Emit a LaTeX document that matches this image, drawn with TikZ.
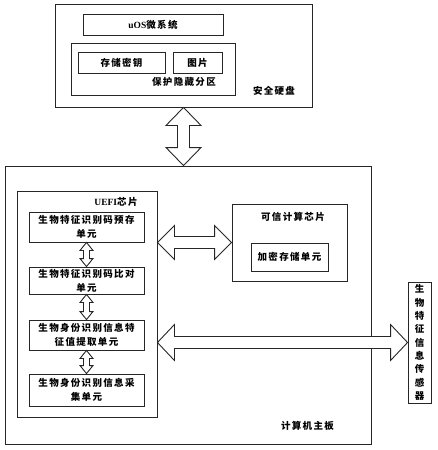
\documentclass[tikz,border=0pt]{standalone}
\usepackage{fontspec}
\setmainfont{Liberation Serif}
\newfontfamily\cjk[LetterSpace=14]{Noto Sans CJK SC}
\usetikzlibrary{calc}
\tikzset{
  box/.style={draw=black!85, line width=0.9pt, minimum width=#1, inner sep=0pt},
  lbl/.style={font=\cjk\bfseries\fontsize{9.5}{13.5}\selectfont, inner sep=0pt, align=center},
  unitbox/.style={draw=black!85, line width=0.9pt, minimum width=115pt, inner sep=0pt, align=center, font=\cjk\bfseries\fontsize{9.5}{14}\selectfont},
  blockarrow/.style={draw=black!85, line width=0.9pt, fill=white, line join=miter},
}
\newcommand\hdblarrow[5]{% #1 left tip, #2 right tip, #3 head length, #4 head half-width, #5 shaft half-width
  \draw[blockarrow] (#1) -- ($(#1)+(#3,-#4)$) -- ($(#1)+(#3,-#5)$) -- ($(#2)+(-#3,-#5)$) -- ($(#2)+(-#3,-#4)$) -- (#2)
    -- ($(#2)+(-#3,#4)$) -- ($(#2)+(-#3,#5)$) -- ($(#1)+(#3,#5)$) -- ($(#1)+(#3,#4)$) -- cycle;}
\newcommand\vdblarrow[5]{% #1 top tip, #2 bottom tip
  \draw[blockarrow] (#1) -- ($(#1)+(#4,#3)$) -- ($(#1)+(#5,#3)$) -- ($(#2)+(#5,-#3)$) -- ($(#2)+(#4,-#3)$) -- (#2)
    -- ($(#2)+(-#4,-#3)$) -- ($(#2)+(-#5,-#3)$) -- ($(#1)+(-#5,#3)$) -- ($(#1)+(-#4,#3)$) -- cycle;}
\begin{document}
\begin{tikzpicture}[x=1pt,y=-1pt]
\useasboundingbox (0,0) rectangle (437,450);
% secure disk
\node[box=257pt, minimum height=103pt] (disk) at (183.5,55.5) {};
\node[box=140pt, minimum height=21pt, font=\bfseries\fontsize{9.5}{11}\selectfont] (uos) at (153,24.5) {uOS{\cjk\bfseries 微系统}};
\node[box=164pt, minimum height=52pt] (part) at (153,69) {};
\node[box=87pt, minimum height=21pt, lbl] (key) at (121.5,62.5) {存储密钥};
\node[box=49pt, minimum height=21pt, lbl] (pic) at (197.5,62.5) {图片};
\node[lbl] (partl) at (184,82) {保护隐藏分区};
\node[lbl] (diskl) at (274,91) {安全硬盘};
% motherboard
\node[box=366pt, minimum height=278pt] (mb) at (188,305) {};
\node[lbl] (mbl) at (307.5,426) {计算机主板};
% UEFI
\node[box=140pt, minimum height=226pt] (uefi) at (87,304) {};
\node[inner sep=0pt, font=\bfseries\fontsize{9.5}{11}\selectfont] (uefil) at (116,202) {UEFI{\cjk\bfseries 芯片}};
\node[unitbox, minimum height=30pt] (u1) at (86.5,227) {生物特征识别码预存\\单元};
\node[unitbox, minimum height=27pt] (u2) at (86.5,280.5) {生物特征识别码比对\\单元};
\node[unitbox, minimum height=30pt] (u3) at (86.5,335) {生物身份识别信息特\\征值提取单元};
\node[unitbox, minimum height=32pt] (u4) at (86.5,390) {生物身份识别信息采\\集单元};
% trusted chip
\node[box=115pt, minimum height=77pt] (tc) at (289.5,242.5) {};
\node[lbl] (tcl) at (293,217) {可信计算芯片};
\node[box=77pt, minimum height=28pt, lbl] (enc) at (289.5,257) {加密存储单元};
% sensor
\node[box=23pt, minimum height=121pt, lbl, font=\cjk\bfseries\fontsize{9.5}{13.3}\selectfont] (sensor) at (419.5,342.5) {生\\物\\特\\征\\信\\息\\传\\感\\器};
% arrows
\coordinate (dtop) at (disk.south);
\coordinate (dbot) at (disk.south |- mb.north);
\vdblarrow{dtop}{dbot}{18}{17.5}{6}
\coordinate (a1l) at (uefi.east |- tc.west);
\coordinate (a1r) at (tc.west);
\hdblarrow{a1l}{a1r}{17}{17}{6}
\coordinate (a2l) at (uefi.east |- sensor.west);
\coordinate (a2r) at (sensor.west);
\hdblarrow{a2l}{a2r}{17}{18}{6}
\vdblarrow{u1.south}{u2.north}{8}{6.5}{3}
\vdblarrow{u2.south}{u3.north}{8}{6.5}{3}
\vdblarrow{u3.south}{u4.north}{8}{6.5}{3}
\end{tikzpicture}
\end{document}
